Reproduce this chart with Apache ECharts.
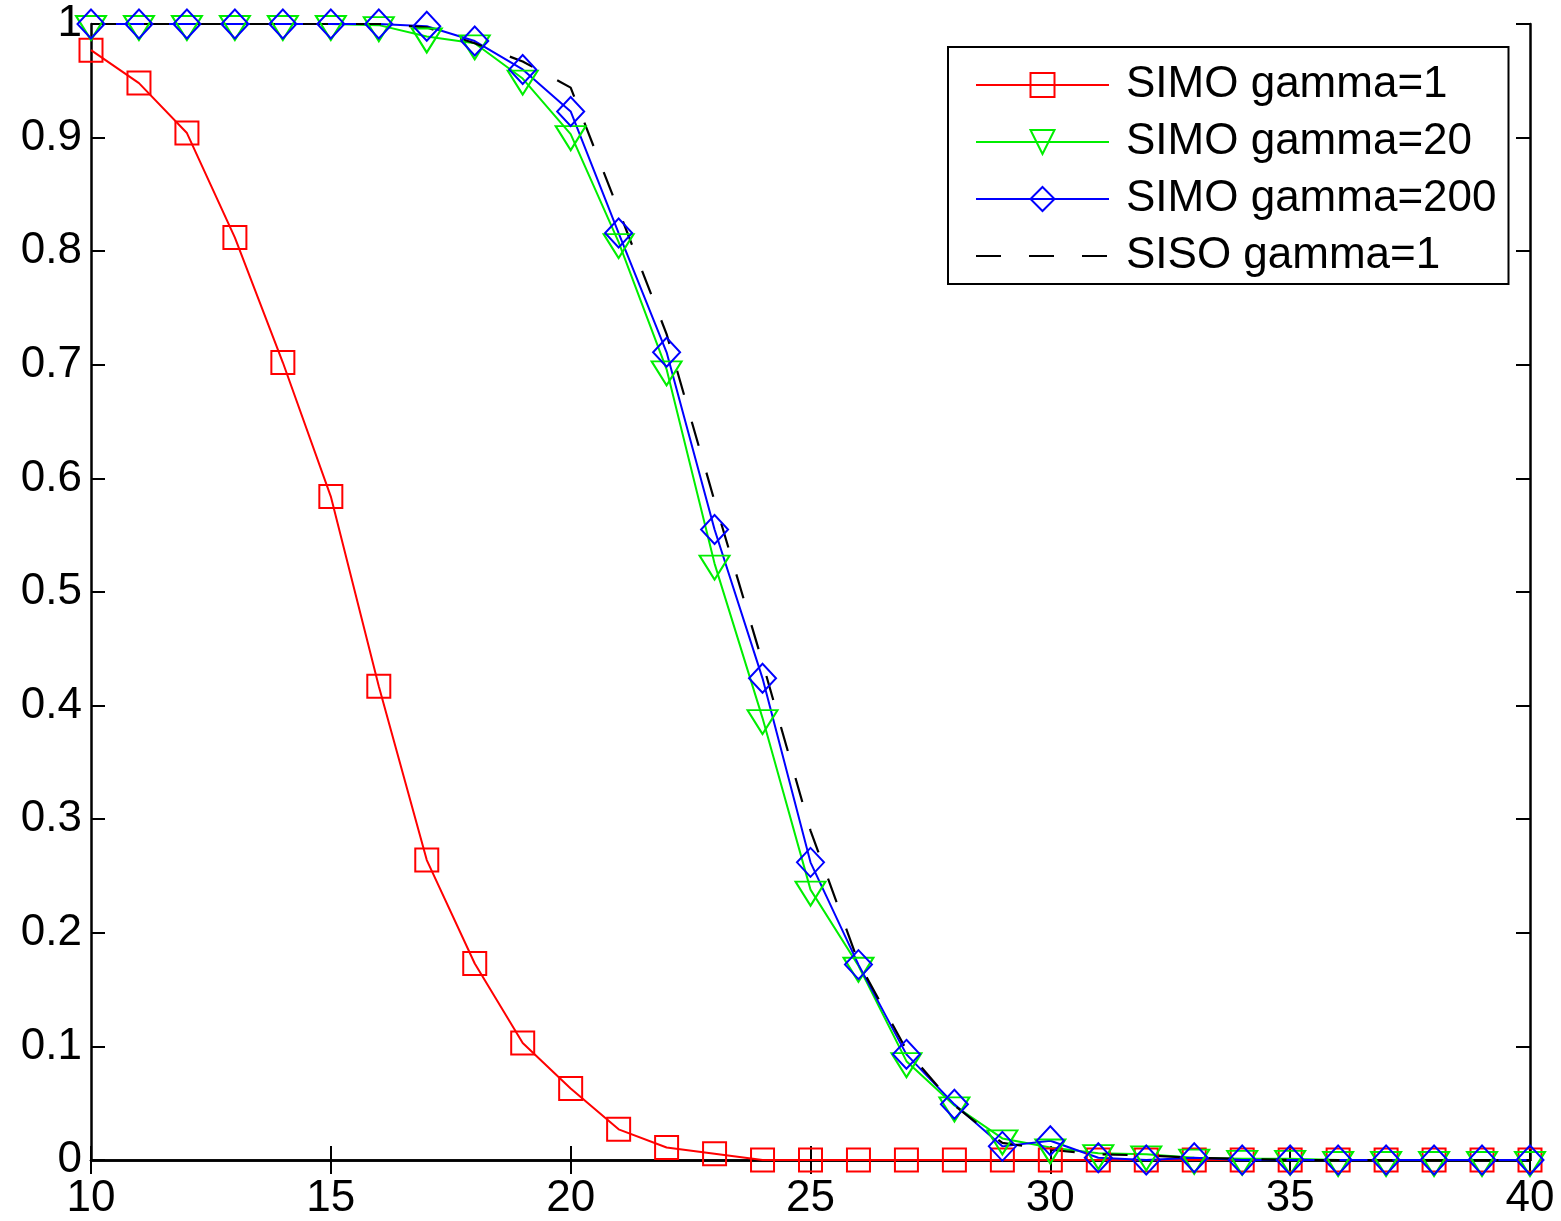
<!DOCTYPE html>
<html>
<head>
<meta charset="utf-8">
<script src="https://cdn.jsdelivr.net/npm/echarts@6/dist/echarts.min.js"></script>
<style>
html,body{margin:0;padding:0;background:#fff;}
#chart{width:1561px;height:1221px;}
</style>
</head>
<body>
<div id="chart"></div>
<script>
const xValues = [10,11,12,13,14,15,16,17,18,19,20,21,22,23,24,25,26,27,28,29,30,31,32,33,34,35,36,37,38,39,40];
const simoGamma1 = [0.977,0.948,0.904,0.812,0.702,0.584,0.417,0.264,0.173,0.103,0.063,0.027,0.011,0.0056,0,0,0,0,0,0,0,0,0,0,0,0,0,0,0,0,0];
const simoGamma20 = [1,1,1,1,1,1,0.999,0.989,0.983,0.952,0.903,0.808,0.696,0.525,0.389,0.238,0.171,0.087,0.048,0.019,0.011,0.006,0.005,0.002,0.001,0.001,0,0,0,0,0];
const simoGamma200 = [1,1,1,1,1,1,1,0.998,0.985,0.96,0.923,0.816,0.711,0.555,0.424,0.262,0.172,0.093,0.049,0.012,0.017,0.002,0,0.002,0,0,0,0,0,0,0];
const sisoGamma1 = [1,1,1,1,1,1,1,0.997,0.983,0.967,0.944,0.836,0.727,0.58,0.438,0.29,0.174,0.097,0.048,0.015,0.009,0.005,0.004,0.002,0.001,0,0,0,0,0,0];
const seriesNames = ['SIMO gamma=1','SIMO gamma=20','SIMO gamma=200','SISO gamma=1'];

const pairs = arr => xValues.map((x,i)=>[x,arr[i]]);
const FONT = "'Liberation Sans', Arial, Helvetica, sans-serif";

const chart = echarts.init(document.getElementById('chart'), null, {renderer:'canvas'});

const baseAxis = {
  axisLine:{show:true,lineStyle:{color:'#000',width:2.5}},
  axisTick:{show:true,inside:true,length:14,lineStyle:{color:'#000',width:2}},
  splitLine:{show:false}
};

chart.setOption({
  animation:false,
  backgroundColor:'#fff',
  grid:{left:91,top:24,right:31,bottom:59,containLabel:false},
  xAxis:[
    Object.assign({type:'value',position:'bottom',min:10,max:40,interval:5,
      axisLabel:{show:true,color:'#000',fontSize:44,fontFamily:FONT,margin:17}}, baseAxis),
    Object.assign({type:'value',position:'top',min:10,max:40,interval:5,
      axisLabel:{show:false}}, baseAxis)
  ],
  yAxis:[
    Object.assign({type:'value',position:'left',min:0,max:1,interval:0.1,
      axisLabel:{show:true,color:'#000',fontSize:44,fontFamily:FONT,margin:9}}, baseAxis),
    Object.assign({type:'value',position:'right',min:0,max:1,interval:0.1,
      axisLabel:{show:false}}, baseAxis)
  ],
  legend:{
    orient:'vertical',left:948,top:47,
    itemWidth:133,itemHeight:30,itemGap:13,
    padding:[16,12,6,27],
    borderColor:'#000',borderWidth:2,backgroundColor:'#fff',
    textStyle:{fontSize:44,fontFamily:FONT,color:'#000',lineHeight:44,padding:[0,0,0,12]},
    data:seriesNames
  },
  series:[
    {name:seriesNames[0],type:'line',data:pairs(simoGamma1),clip:false,
      symbol:'rect',symbolSize:23,
      lineStyle:{color:'#ff0000',width:2},
      itemStyle:{color:'transparent',borderColor:'#ff0000',borderWidth:2},
      emphasis:{disabled:true}},
    {name:seriesNames[1],type:'line',data:pairs(simoGamma20),clip:false,
      symbol:'triangle',symbolRotate:180,symbolSize:[30,24],symbolOffset:[0,4],
      lineStyle:{color:'#00ee00',width:2},
      itemStyle:{color:'transparent',borderColor:'#00ee00',borderWidth:2},
      emphasis:{disabled:true}},
    {name:seriesNames[2],type:'line',data:pairs(simoGamma200),clip:false,
      symbol:'diamond',symbolSize:[27,29],
      lineStyle:{color:'#0000ff',width:2},
      itemStyle:{color:'transparent',borderColor:'#0000ff',borderWidth:2},
      emphasis:{disabled:true}},
    {name:seriesNames[3],type:'line',data:pairs(sisoGamma1),clip:false,
      symbol:'none',
      lineStyle:{color:'#000000',width:2.2,type:[25,28]},
      itemStyle:{color:'transparent',borderColor:'transparent',borderWidth:0},
      emphasis:{disabled:true}}
  ]
});
</script>
</body>
</html>
